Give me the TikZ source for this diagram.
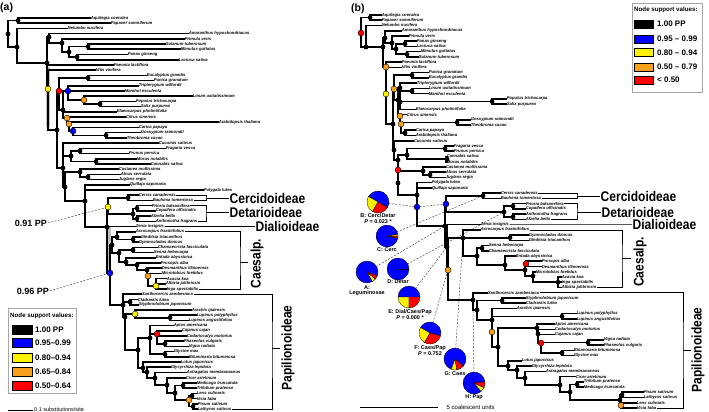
\documentclass[tikz,border=0pt]{standalone}
\usepackage{fontspec}
\setmainfont{Liberation Sans}
\definecolor{nodeorange}{RGB}{247,160,30}
\newcommand\tipfont{\fontsize{4.2}{4.6}\selectfont\bfseries\itshape}
\newcommand\tA[3]{\node[tip] (a#1) at (#2,{18+5.213*(#1-1)}) {#3};}
\newcommand\tB[3]{\node[tip] (b#1) at (#2,{15+5.24*(#1-1)}) {#3};}
\newcommand\kids[2]{\foreach \kid in {#2}{\draw[branch] (#1) |- (\kid);}}
\newcommand\dk[1]{\foreach \kid in {#1}{\fill[black] (\kid) circle (2.4pt);}}
\newcommand\dc[2]{\filldraw[fill=#2,draw=black,line width=0.4pt] (#1) circle (3pt);}
\newcommand\slice[4]{\filldraw[fill=#2,draw=black,line width=0.3pt] (#1) -- ++(#3:11pt) arc[start angle=#3,end angle=#4,radius=11pt] -- cycle;}
\newcommand\cl[1]{\scalebox{0.86}[1]{#1}}
\begin{document}
\begin{tikzpicture}[x=1pt,y=-1pt,
  tip/.style={anchor=west,inner sep=0.6pt,font=\tipfont},
  branch/.style={line width=1.6pt,line cap=rect},
  brk/.style={line width=0.6pt},
  clade/.style={font=\fontsize{14}{14}\selectfont\bfseries,inner sep=0.5pt},
  dashl/.style={gray!60!black,line width=0.5pt,dash pattern=on 2pt off 1.5pt},
  ppl/.style={font=\fontsize{9}{9}\selectfont\bfseries,inner sep=0.5pt},
  pielab/.style={font=\fontsize{5.5}{6}\selectfont\bfseries,inner sep=0.3pt},
  sw/.style={draw=black,line width=0.4pt,minimum width=20pt,minimum height=9pt,inner sep=0},
  swb/.style={draw=black,line width=0.4pt,minimum width=19pt,minimum height=8pt,inner sep=0},
  legtxt/.style={anchor=west,font=\fontsize{8}{8}\selectfont\bfseries,inner sep=0},
  legtitle/.style={anchor=west,font=\fontsize{6.2}{6.2}\selectfont\bfseries,inner sep=0},
  panel/.style={anchor=north west,font=\fontsize{10.5}{10.5}\selectfont\bfseries,inner sep=0}]
\fill[white] (0,0) rectangle (709,412);
\useasboundingbox (0,0) rectangle (709,412);

% ================= PANEL (a) =================
\node[panel] (panA) at (0,3) {(a)};
\tA{1}{90}{Aquilegia coerulea}
\tA{2}{110}{Papaver somniferum}
\tA{3}{67}{Nelumbo nucifera}
\tA{4}{188}{Amaranthus hypochondriacus}
\tA{5}{184}{Primula veris}
\tA{6}{165}{Solanum tuberosum}
\tA{7}{180}{Mimulus guttatus}
\tA{8}{127}{Panax ginseng}
\tA{9}{178}{Lactuca sativa}
\tA{10}{113}{Paeonia lactiflora}
\tA{11}{95}{Vitis vinifera}
\tA{12}{146}{Eucalyptus grandis}
\tA{13}{153}{Punica granatum}
\tA{14}{138}{Tripterygium wilfordii}
\tA{15}{124}{Manihot esculenta}
\tA{16}{192}{Linum usitatissimum}
\tA{17}{135}{Populus trichocarpa}
\tA{18}{140}{Salix purpurea}
\tA{19}{116}{Elaeocarpus photiniifolia}
\tA{20}{125}{Citrus sinensis}
\tA{21}{218}{Arabidopsis thaliana}
\tA{22}{138}{Carica papaya}
\tA{23}{140}{Gossypium raimondii}
\tA{24}{126}{Theobroma cacao}
\tA{25}{158}{Cucumis sativus}
\tA{26}{165}{Fragaria vesca}
\tA{27}{128}{Prunus persica}
\tA{28}{136}{Morus notabilis}
\tA{29}{150}{Cannabis sativa}
\tA{30}{118}{Castanea mollissima}
\tA{31}{120}{Alnus serrulata}
\tA{32}{118}{Juglans regia}
\tA{33}{129}{Quillaja saponaria}
\tA{34}{203}{Polygala lutea}
\tA{35}{138}{Cercis canadensis}
\tA{36}{152}{Bauhinia tomentosa}
\tA{37}{151}{Prioria balsamifera}
\tA{38}{155}{Copaifera officinalis}
\tA{39}{150}{Afzelia bella}
\tA{40}{155}{Anthonotha fragrans}
\tA{41}{135}{Zenia insignis}
\tA{42}{135}{Acrocarpus fraxinifolius}
\tA{43}{140}{Gleditsia triacanthos}
\tA{44}{138}{Gymnocladus dioicus}
\tA{45}{157}{Chamaecrista fasciculata}
\tA{46}{153}{Senna hebecarpa}
\tA{47}{155}{Entada abyssinica}
\tA{48}{160}{Prosopis alba}
\tA{49}{161}{Desmanthus illinoensis}
\tA{50}{161}{Microlobius foetidus}
\tA{51}{166}{Acacia koa}
\tA{52}{165}{Albizia julibrissin}
\tA{53}{166}{Inga spectabilis}
\tA{54}{141}{Xanthocercis zambesiaca}
\tA{55}{137}{Cladrastis lutea}
\tA{56}{138}{Styphnolobium japonicum}
\tA{57}{191}{Arachis ipaensis}
\tA{58}{196}{Lupinus polyphyllus}
\tA{59}{188}{Lupinus angustifolius}
\tA{60}{173}{Apios americana}
\tA{61}{181}{Cajanus cajan}
\tA{62}{186}{Codariocalyx motorius}
\tA{63}{183}{Phaseolus vulgaris}
\tA{64}{188}{Vigna radiata}
\tA{65}{173}{Glycine max}
\tA{66}{188}{Bituminaria bituminosa}
\tA{67}{180}{Lotus japonicus}
\tA{68}{170}{Glycyrrhiza lepidota}
\tA{69}{186}{Astragalus membranaceus}
\tA{70}{185}{Cicer arietinum}
\tA{71}{196}{Medicago truncatula}
\tA{72}{196}{Trifolium pratense}
\tA{73}{196}{Lens culinaris}
\tA{74}{196}{Vicia faba}
\tA{75}{197}{Pisum sativum}
\tA{76}{197}{Lathyrus sativus}

\coordinate (aAP) at (18,20.6);
\coordinate (aR) at (8,34);
\coordinate (aNN) at (17,47);
\coordinate (aCE) at (47,63);
\coordinate (aSA) at (49,37);
\coordinate (aAS) at (62,43);
\coordinate (aAS2) at (69,52);
\coordinate (aSM) at (88,46.7);
\coordinate (aPL) at (77,57.1);
\coordinate (aVR) at (48,89);
\coordinate (aROS) at (57,130);
\coordinate (aRA) at (59,91);
\coordinate (aPE) at (88,78);
\coordinate (aRB) at (63,110);
\coordinate (aCOM) at (68,91);
\coordinate (aLPS) at (84,100);
\coordinate (aPS) at (100,104);
\coordinate (aMAL) at (67,118);
\coordinate (aMV) at (69,124);
\coordinate (aBL) at (73,131);
\coordinate (aGT) at (106,135.3);
\coordinate (aFB) at (63,168);
\coordinate (aRM) at (71,156);
\coordinate (aFP) at (80,151);
\coordinate (aMC) at (96,161.4);
\coordinate (aFB2) at (65,187);
\coordinate (aFG) at (80,172);
\coordinate (aAJ) at (88,177);
\coordinate (aFAB) at (85,201);
\coordinate (aLEG) at (107,227);
\coordinate (aCD) at (108,207);
\coordinate (aCB) at (128,197.8);
\coordinate (aDT) at (133,214);
\coordinate (aPC) at (137,208.3);
\coordinate (aAA) at (137,218.7);
\coordinate (aCP) at (110,273);
\coordinate (aCAE) at (112,245);
\coordinate (aC0) at (117,237);
\coordinate (aGG) at (133,239.5);
\coordinate (aC1) at (119,253);
\coordinate (aSC) at (133,250);
\coordinate (aC2) at (126,262);
\coordinate (aC3) at (137,265);
\coordinate (aC4) at (147,270);
\coordinate (aC5) at (148,276);
\coordinate (aAI) at (156,286);
\coordinate (aPAP) at (123,305);
\coordinate (aCS) at (130,302);
\coordinate (aP1) at (125,317);
\coordinate (aP2) at (135,314);
\coordinate (aLU) at (170,317.7);
\coordinate (aP4) at (138,350);
\coordinate (aMIL) at (150,338);
\coordinate (aRD) at (157,334);
\coordinate (aPV) at (165,343.8);
\coordinate (aGB) at (165,354.2);
\coordinate (aHOL) at (143,368);
\coordinate (aH1) at (147,372);
\coordinate (aH2) at (155,378);
\coordinate (aH3) at (167,385);
\coordinate (aH4) at (175,393);
\coordinate (aMT) at (183,385.5);
\coordinate (aH5) at (189,400);
\coordinate (aLV) at (192,396);
\coordinate (aPLb) at (193,406.4);

\fill[gray!50] (45.5,67) rectangle (50,127);
\fill[gray!50] (106,227) rectangle (111,272);

\node[ppl] (pp91) at (31,223) {0.91 PP};
\node[ppl] (pp96) at (33,291) {0.96 PP};
\draw[dashl] (pp91.east) -- (aCD);
\draw[dashl] (pp96.east) -- (aCP);

\kids{aAP}{a1.west,a2.west}
\kids{aR}{aAP,aNN}
\kids{aNN}{a3.west,aCE}
\kids{aCE}{aSA,a10.west,aVR}
\kids{aSA}{a4.west,aAS}
\kids{aAS}{a5.west,aAS2}
\kids{aAS2}{aSM,aPL}
\kids{aSM}{a6.west,a7.west}
\kids{aPL}{a8.west,a9.west}
\kids{aVR}{a11.west,aROS}
\kids{aROS}{aRA,aFB}
\kids{aRA}{aPE,aRB}
\kids{aPE}{a12.west,a13.west}
\kids{aRB}{aCOM,a19.west,aMAL}
\kids{aCOM}{a14.west,a15.west,aLPS}
\kids{aLPS}{a16.west,aPS}
\kids{aPS}{a17.west,a18.west}
\kids{aMAL}{a20.west,aMV}
\kids{aMV}{a21.west,aBL}
\kids{aBL}{a22.west,aGT}
\kids{aGT}{a23.west,a24.west}
\kids{aFB}{a25.west,aRM,aFB2}
\kids{aRM}{aFP,aMC}
\kids{aFP}{a26.west,a27.west}
\kids{aMC}{a28.west,a29.west}
\kids{aFB2}{aFG,aFAB}
\kids{aFG}{a30.west,aAJ}
\kids{aAJ}{a31.west,a32.west}
\kids{aFAB}{a33.west,a34.west,aLEG}
\kids{aLEG}{aCD,a41.west,aCP}
\kids{aCD}{aCB,aDT}
\kids{aCB}{a35.west,a36.west}
\kids{aDT}{aPC,aAA}
\kids{aPC}{a37.west,a38.west}
\kids{aAA}{a39.west,a40.west}
\kids{aCP}{aCAE,aPAP}
\kids{aCAE}{aC0,aC1}
\kids{aC0}{a42.west,aGG}
\kids{aGG}{a43.west,a44.west}
\kids{aC1}{aSC,aC2}
\kids{aSC}{a45.west,a46.west}
\kids{aC2}{a47.west,aC3}
\kids{aC3}{a48.west,aC4}
\kids{aC4}{a49.west,aC5}
\kids{aC5}{a50.west,aAI}
\kids{aAI}{a51.west,a52.west,a53.west}
\kids{aPAP}{a54.west,aCS,aP1}
\kids{aCS}{a55.west,a56.west}
\kids{aP1}{aP2,aP4}
\kids{aP2}{a57.west,aLU}
\kids{aLU}{a58.west,a59.west}
\kids{aP4}{aMIL,aHOL}
\kids{aMIL}{a60.west,aRD,aGB}
\kids{aRD}{a61.west,a62.west,aPV}
\kids{aPV}{a63.west,a64.west}
\kids{aGB}{a65.west,a66.west}
\kids{aHOL}{a67.west,aH1}
\kids{aH1}{a68.west,aH2}
\kids{aH2}{a69.west,aH3}
\kids{aH3}{a70.west,aH4}
\kids{aH4}{aMT,aH5}
\kids{aMT}{a71.west,a72.west}
\kids{aH5}{aLV,aPLb}
\kids{aLV}{a73.west,a74.west}
\kids{aPLb}{a75.west,a76.west}

\dk{aAP,aR,aNN,aCE,aSA,aAS,aAS2,aSM,aPL,aROS,aPE,aRB,aPS,aGT,aFB,aRM,aFP,aMC,aFB2,aFG,aAJ,aFAB,aLEG,aCB,aDT,aPC,aAA,aCAE,aC0,aGG,aC1,aSC,aC2,aC3,aC4,aPAP,aCS,aP1,aLU,aP4,aMIL,aPV,aGB,aHOL,aH1,aH2,aH3,aH4,aMT,aLV,aPLb}
\dc{aVR}{yellow}
\dc{aRA}{red}
\dc{aCOM}{blue}
\dc{aLPS}{nodeorange}
\dc{aMAL}{nodeorange}
\dc{aMV}{nodeorange}
\dc{aBL}{blue}
\dc{aCD}{yellow}
\dc{aCP}{blue}
\dc{aC5}{nodeorange}
\dc{aAI}{yellow}
\dc{aP2}{yellow}
\dc{aRD}{red}
\dc{aH5}{nodeorange}

% clade labels (a)
\node[clade,anchor=west] (cercA) at (229,198.4) {\cl{Cercidoideae}};
\node[clade,anchor=west] (detA) at (229,212.5) {\cl{Detarioideae}};
\node[clade,anchor=west] (dialA) at (255,226.5) {\cl{Dialioideae}};
\node[clade,rotate=90] (caesA) at (257,263.5) {\cl{Caesalp.}};
\node[clade,rotate=90] (papA) at (288,348) {\cl{Papilionoideae}};
\coordinate (aCerBr) at (206,198.4);
\coordinate (aDetBr) at (206,212.5);
\coordinate (aCaeBr) at (240,262);
\coordinate (aCaeTk) at (248,262);
\coordinate (aPapBr) at (272,348);
\coordinate (aPapTk) at (280,348);
\draw[brk] (a35.east) -| (aCerBr) |- (a36.east);
\draw[brk] (aCerBr) -- (cercA.west);
\draw[brk] (a37.east) -| (aDetBr) |- (a40.east);
\draw[brk] (aDetBr) -- (detA.west);
\draw[brk] (a41.east) -- (dialA.west);
\draw[brk] (a42.east) -| (aCaeBr) |- (a53.east);
\draw[brk] (aCaeBr) -- (aCaeTk);
\draw[brk] (a54.east) -| (aPapBr) |- (a76.east);
\draw[brk] (aPapBr) -- (aPapTk);

% legend (a)
\node[draw=gray!70,line width=0.6pt,minimum width=68pt,minimum height=85pt,inner sep=0,anchor=north west] (legA) at (8,308) {};
\node[legtitle] (legAt) at (10,316) {Node support values:};
\node[sw,fill=black] (legA1) at (22,329.5) {};
\node[sw,fill=blue] (legA2) at (22,343) {};
\node[sw,fill=yellow] (legA3) at (22,357.5) {};
\node[sw,fill=nodeorange] (legA4) at (22,371.5) {};
\node[sw,fill=red] (legA5) at (22,385.5) {};
\node[legtxt] (legAt1) at (35,329.5) {1.00 PP};
\node[legtxt] (legAt2) at (35,343) {0.95–0.99};
\node[legtxt] (legAt3) at (35,357.5) {0.80–0.94};
\node[legtxt] (legAt4) at (35,371.5) {0.65–0.84};
\node[legtxt] (legAt5) at (35,385.5) {0.50–0.64};
\coordinate (scA1) at (8,410);
\coordinate (scA2) at (33,410);
\draw[line width=0.7pt] (scA1) -- (scA2);
\node[anchor=west,font=\fontsize{5.5}{5.5}\selectfont,inner sep=0.5pt] (scAt) at (33.5,410) {0.1 substitutions/site};

% ================= PANEL (b) =================
\node[panel] (panB) at (351,4) {(b)};
\tB{1}{381}{Aquilegia coerulea}
\tB{2}{381}{Papaver somniferum}
\tB{3}{381}{Nelumbo nucifera}
\tB{4}{401}{Amaranthus hypochondriacus}
\tB{5}{408}{Primula veris}
\tB{6}{416}{Panax ginseng}
\tB{7}{416}{Lactuca sativa}
\tB{8}{420}{Mimulus guttatus}
\tB{9}{418}{Solanum tuberosum}
\tB{10}{401}{Paeonia lactiflora}
\tB{11}{401}{Vitis vinifera}
\tB{12}{428}{Punica granatum}
\tB{13}{428}{Eucalyptus grandis}
\tB{14}{416}{Tripterygium wilfordii}
\tB{15}{428}{Linum usitatissimum}
\tB{16}{428}{Manihot esculenta}
\tB{17}{506}{Populus trichocarpa}
\tB{18}{506}{Salix purpurea}
\tB{19}{415}{Elaeocarpus photiniifolia}
\tB{20}{406}{Citrus sinensis}
\tB{21}{470}{Gossypium raimondii}
\tB{22}{470}{Theobroma cacao}
\tB{23}{415}{Carica papaya}
\tB{24}{415}{Arabidopsis thaliana}
\tB{25}{413}{Cucumis sativus}
\tB{26}{453}{Fragaria vesca}
\tB{27}{453}{Prunus persica}
\tB{28}{446}{Cannabis sativa}
\tB{29}{446}{Morus notabilis}
\tB{30}{445}{Castanea mollissima}
\tB{31}{445}{Alnus serrulata}
\tB{32}{445}{Juglans regia}
\tB{33}{431}{Polygala lutea}
\tB{34}{431}{Quillaja saponaria}
\tB{35}{500}{Cercis canadensis}
\tB{36}{500}{Bauhinia tomentosa}
\tB{37}{525}{Prioria balsamifera}
\tB{38}{525}{Copaifera officinalis}
\tB{39}{525}{Anthonotha fragrans}
\tB{40}{525}{Afzelia bella}
\tB{41}{480}{Zenia insignis}
\tB{42}{480}{Acrocarpus fraxinifolius}
\tB{43}{528}{Gymnocladus dioicus}
\tB{44}{528}{Gleditsia triacanthos}
\tB{45}{488}{Senna hebecarpa}
\tB{46}{488}{Chamaecrista fasciculata}
\tB{47}{515}{Entada abyssinica}
\tB{48}{541}{Prosopis alba}
\tB{49}{541}{Desmanthus illinoensis}
\tB{50}{535}{Microlobius foetidus}
\tB{51}{561}{Acacia koa}
\tB{52}{561}{Inga spectabilis}
\tB{53}{561}{Albizia julibrissin}
\tB{54}{487}{Xanthocercis zambesiaca}
\tB{55}{525}{Styphnolobium japonicum}
\tB{56}{525}{Cladrastis lutea}
\tB{57}{516}{Arachis ipaensis}
\tB{58}{576}{Lupinus polyphyllus}
\tB{59}{576}{Lupinus angustifolius}
\tB{60}{554}{Apios americana}
\tB{61}{554}{Codariocalyx motorius}
\tB{62}{554}{Cajanus cajan}
\tB{63}{603}{Vigna radiata}
\tB{64}{603}{Phaseolus vulgaris}
\tB{65}{573}{Bituminaria bituminosa}
\tB{66}{573}{Glycine max}
\tB{67}{521}{Lotus japonicus}
\tB{68}{531}{Glycyrrhiza lepidota}
\tB{69}{545}{Astragalus membranaceus}
\tB{70}{575}{Cicer arietinum}
\tB{71}{583}{Trifolium pratense}
\tB{72}{583}{Medicago truncatula}
\tB{73}{643}{Pisum sativum}
\tB{74}{643}{Lathyrus sativus}
\tB{75}{636}{Lens culinaris}
\tB{76}{636}{Vicia faba}

\coordinate (bAP) at (370,17.6);
\coordinate (bR) at (361,33);
\coordinate (bNN) at (366,47);
\coordinate (bCE) at (383,47);
\coordinate (bSA) at (385,38);
\coordinate (bAS) at (392,43);
\coordinate (bAS2) at (396,49);
\coordinate (bPL) at (405,43.8);
\coordinate (bMS) at (407,54.3);
\coordinate (bSR) at (386,67);
\coordinate (bVR) at (386,94);
\coordinate (bROS) at (393,124);
\coordinate (bRA) at (394,89);
\coordinate (bPE) at (412,75.2);
\coordinate (bRB) at (398,100);
\coordinate (bCOM) at (400,88);
\coordinate (bLM) at (412,91);
\coordinate (bPS) at (492,101.5);
\coordinate (bMAL) at (400,116);
\coordinate (bMV) at (401,124);
\coordinate (bGT) at (457,122.4);
\coordinate (bCA) at (405,133);
\coordinate (bFB) at (394,150);
\coordinate (bF2) at (398,160);
\coordinate (bRM) at (407,155);
\coordinate (bFP) at (445,148.6);
\coordinate (bCM) at (447,159.1);
\coordinate (bF3) at (398,170);
\coordinate (bFG) at (423,171);
\coordinate (bAJ) at (430,174.8);
\coordinate (bFAB) at (417,195);
\coordinate (bLEG) at (445,226);
\coordinate (bCD) at (446,204);
\coordinate (bCB) at (483,195.8);
\coordinate (bDT) at (504,212);
\coordinate (bPC) at (513,206.2);
\coordinate (bAA) at (513,216.8);
\coordinate (bDCP) at (447,247);
\coordinate (bCP) at (448,270);
\coordinate (bCAE) at (463,238);
\coordinate (bGG) at (510,237.7);
\coordinate (bC2) at (477,256);
\coordinate (bSC) at (482,248.2);
\coordinate (bC3) at (505,265);
\coordinate (bC4) at (525,270);
\coordinate (bPD) at (526,263.9);
\coordinate (bC5) at (533,276);
\coordinate (bAIA) at (558,282.2);
\coordinate (bPAP) at (473,300);
\coordinate (bP1) at (477,310);
\coordinate (bSC2) at (502,300.6);
\coordinate (bP2) at (492,320);
\coordinate (bP3) at (492,332);
\coordinate (bLU) at (562,316.3);
\coordinate (bP4) at (498,347);
\coordinate (bMIL) at (537,328);
\coordinate (bM2) at (538,334);
\coordinate (bM3) at (541,343);
\coordinate (bVP) at (588,342.5);
\coordinate (bBG) at (562,353);
\coordinate (bP5) at (508,366);
\coordinate (bP6) at (517,370);
\coordinate (bP7) at (525,378);
\coordinate (bP8) at (560,385);
\coordinate (bP9) at (570,392);
\coordinate (bTM) at (577,384.4);
\coordinate (bPV) at (620,400);
\coordinate (bPLa) at (622,395);
\coordinate (bLV) at (621,405.4);
\coordinate (bX1) at (400,102);
\coordinate (bX2) at (398,183);
\coordinate (bXb) at (417,207);

% pies positions
\coordinate (pB) at (378,202);
\coordinate (pC) at (387,236);
\coordinate (pA) at (367,272);
\coordinate (pD) at (398,269);
\coordinate (pE) at (409,297);
\coordinate (pF) at (430,333);
\coordinate (pG) at (455,359);
\coordinate (pH) at (474,383);
\draw[dashl] (pB) -- (bXb) -- (bCD);
\draw[dashl] (pC) -- (bCB);
\draw[dashl] (pA) -- (bLEG);
\draw[dashl] (pD) -- (bDT);
\draw[dashl] (pE) -- (bDCP);
\draw[dashl] (pF) -- (bCP);
\draw[dashl] (pG) -- (bCAE);
\draw[dashl] (pH) -- (bPAP);

\kids{bAP}{b1.west,b2.west}
\kids{bR}{bAP,bNN}
\kids{bNN}{b3.west,bCE}
\kids{bCE}{bSA,bSR}
\kids{bSA}{b4.west,bAS}
\kids{bAS}{b5.west,bAS2}
\kids{bAS2}{bPL,bMS}
\kids{bPL}{b6.west,b7.west}
\kids{bMS}{b8.west,b9.west}
\kids{bSR}{b10.west,bVR}
\kids{bVR}{b11.west,bROS}
\kids{bROS}{bRA,bFB}
\kids{bRA}{bPE,bRB}
\kids{bPE}{b12.west,b13.west}
\kids{bRB}{bCOM,bMAL}
\kids{bCOM}{b14.west,bLM,bPS,b19.west}
\kids{bLM}{b15.west,b16.west}
\kids{bPS}{b17.west,b18.west}
\kids{bMAL}{b20.west,bMV}
\kids{bMV}{bGT,bCA}
\kids{bGT}{b21.west,b22.west}
\kids{bCA}{b23.west,b24.west}
\kids{bFB}{b25.west,bF2}
\kids{bF2}{bRM,bF3}
\kids{bRM}{bFP,bCM}
\kids{bFP}{b26.west,b27.west}
\kids{bCM}{b28.west,b29.west}
\kids{bF3}{bFG,bFAB}
\kids{bFG}{b30.west,bAJ}
\kids{bAJ}{b31.west,b32.west}
\kids{bFAB}{b33.west,b34.west,bLEG}
\kids{bLEG}{bCD,bDCP}
\kids{bCD}{bCB,bDT}
\kids{bCB}{b35.west,b36.west}
\kids{bDT}{bPC,bAA}
\kids{bPC}{b37.west,b38.west}
\kids{bAA}{b39.west,b40.west}
\kids{bDCP}{b41.west,bCP}
\kids{bCP}{bCAE,bPAP}
\kids{bCAE}{b42.west,bGG,bC2}
\kids{bGG}{b43.west,b44.west}
\kids{bC2}{bSC,bC3}
\kids{bSC}{b45.west,b46.west}
\kids{bC3}{b47.west,bC4}
\kids{bC4}{bPD,bC5}
\kids{bPD}{b48.west,b49.west}
\kids{bC5}{b50.west,bAIA}
\kids{bAIA}{b51.west,b52.west,b53.west}
\kids{bPAP}{b54.west,bP1}
\kids{bP1}{bSC2,bP2}
\kids{bSC2}{b55.west,b56.west}
\kids{bP2}{b57.west,bP3}
\kids{bP3}{bLU,bP4}
\kids{bLU}{b58.west,b59.west}
\kids{bP4}{bMIL,bP5}
\kids{bMIL}{b60.west,bM2}
\kids{bM2}{b61.west,b62.west,bM3}
\kids{bM3}{bVP,bBG}
\kids{bVP}{b63.west,b64.west}
\kids{bBG}{b65.west,b66.west}
\kids{bP5}{b67.west,bP6}
\kids{bP6}{b68.west,bP7}
\kids{bP7}{b69.west,bP8}
\kids{bP8}{b70.west,bP9}
\kids{bP9}{bTM,bPV}
\kids{bTM}{b71.west,b72.west}
\kids{bPV}{bPLa,bLV}
\kids{bPLa}{b73.west,b74.west}
\kids{bLV}{b75.west,b76.west}

\dk{bAP,bNN,bCE,bSA,bAS,bAS2,bPL,bMS,bROS,bPE,bRB,bCOM,bLM,bPS,bGT,bCA,bFB,bF2,bRM,bFP,bCM,bFG,bAJ,bFAB,bLEG,bCB,bDT,bPC,bAA,bDCP,bCAE,bGG,bC2,bSC,bC3,bC4,bC5,bAIA,bPAP,bP1,bSC2,bP2,bLU,bP4,bMIL,bM2,bVP,bBG,bP5,bP6,bP7,bP8,bP9,bTM,bPV,bPLa,bX1,bX2}
\dc{bR}{red}
\dc{bSR}{nodeorange}
\dc{bVR}{yellow}
\dc{bRA}{nodeorange}
\dc{bMAL}{nodeorange}
\dc{bMV}{nodeorange}
\dc{bF3}{red}
\dc{bCD}{blue}
\dc{bXb}{blue}
\dc{bCP}{nodeorange}
\dc{bPD}{red}
\dc{bP3}{nodeorange}
\dc{bM3}{red}
\dc{bLV}{nodeorange}

% pies
\slice{pB}{blue}{-30}{150}
\slice{pB}{yellow}{150}{240}
\slice{pB}{red}{240}{330}
\slice{pC}{blue}{8}{348}
\slice{pC}{red}{348}{358}
\slice{pC}{nodeorange}{358}{368}
\slice{pA}{blue}{-20}{300}
\slice{pA}{yellow}{300}{320}
\slice{pA}{red}{320}{340}
\filldraw[fill=blue,draw=black,line width=0.3pt] (pD) circle (11pt);
\draw[line width=0.5pt] (pD) -- ++(0:11pt);
\slice{pE}{blue}{0}{180}
\slice{pE}{yellow}{180}{270}
\slice{pE}{red}{270}{360}
\slice{pF}{blue}{-15}{150}
\slice{pF}{yellow}{150}{240}
\slice{pF}{red}{240}{345}
\slice{pG}{blue}{-40}{250}
\slice{pG}{yellow}{250}{280}
\slice{pG}{red}{280}{320}
\slice{pH}{blue}{5}{310}
\slice{pH}{yellow}{310}{335}
\slice{pH}{red}{335}{365}

\node[pielab] (labB1) at (378,215.5) {B: Cerc/Detar};
\node[pielab] (labB2) at (378,221.5) {\textit{P} = 0.023 *};
\node[pielab] (labC) at (387,249.5) {C: Cerc};
\node[pielab] (labA1) at (367,287.5) {A:};
\node[pielab] (labA2) at (367,293.5) {Leguminosae};
\node[pielab] (labD) at (398,282) {D: Detar};
\node[pielab] (labE1) at (410,312) {E: Dial/Caes/Pap};
\node[pielab] (labE2) at (410,318) {\textit{P} = 0.000 *};
\node[pielab] (labF1) at (430,348) {F: Caes/Pap};
\node[pielab] (labF2) at (430,354) {\textit{P} = 0.752};
\node[pielab] (labG) at (455,374) {G: Caes};
\node[pielab] (labH) at (474,397.5) {H: Pap};

% clade labels (b)
\node[clade,anchor=west] (cercB) at (600,196) {\cl{Cercidoideae}};
\node[clade,anchor=west] (detB) at (601,212) {\cl{Detarioideae}};
\node[clade,anchor=west] (dialB) at (632,224.6) {\cl{Dialioideae}};
\node[clade,rotate=90] (caesB) at (640,262) {\cl{Caesalp.}};
\node[clade,rotate=90] (papB) at (698,350) {\cl{Papilionoideae}};
\coordinate (bCerBr) at (577,196);
\coordinate (bDetBr) at (577,212);
\coordinate (bCaeBr) at (622,258);
\coordinate (bCaeTk) at (631,258);
\coordinate (bPapBr) at (683,350);
\coordinate (bPapTk) at (691,350);
\draw[brk] (b35.east) -| (bCerBr) |- (b36.east);
\draw[brk] (bCerBr) -- (cercB.west);
\draw[brk] (b37.east) -| (bDetBr) |- (b40.east);
\draw[brk] (bDetBr) -- (detB.west);
\draw[brk] (b41.east) -- (dialB.west);
\draw[brk] (b42.east) -| (bCaeBr) |- (b53.east);
\draw[brk] (bCaeBr) -- (bCaeTk);
\draw[brk] (b54.east) -| (bPapBr) |- (b76.east);
\draw[brk] (bPapBr) -- (bPapTk);

% legend (b)
\node[draw=gray!70,line width=0.6pt,minimum width=70pt,minimum height=89pt,inner sep=0,anchor=north west] (legB) at (632,3) {};
\node[legtitle] (legBt) at (634,10) {Node support values:};
\node[swb,fill=black] (legB1) at (643.5,24) {};
\node[swb,fill=blue] (legB2) at (643.5,39) {};
\node[swb,fill=yellow] (legB3) at (643.5,52.5) {};
\node[swb,fill=nodeorange] (legB4) at (643.5,67) {};
\node[swb,fill=red] (legB5) at (643.5,80) {};
\node[legtxt] (legBt1) at (657,24) {1.00 PP};
\node[legtxt] (legBt2) at (657,39) {0.95 – 0.99};
\node[legtxt] (legBt3) at (657,52.5) {0.80 – 0.94};
\node[legtxt] (legBt4) at (657,67) {0.50 – 0.79};
\node[legtxt] (legBt5) at (657,80) {< 0.50};
\coordinate (scB1) at (360,407);
\coordinate (scB2) at (438,407);
\draw[line width=0.7pt] (scB1) -- (scB2);
\node[anchor=west,font=\fontsize{6}{6}\selectfont,inner sep=0.5pt] (scBt) at (446,407) {5 coalescent units};
\end{tikzpicture}
\end{document}
